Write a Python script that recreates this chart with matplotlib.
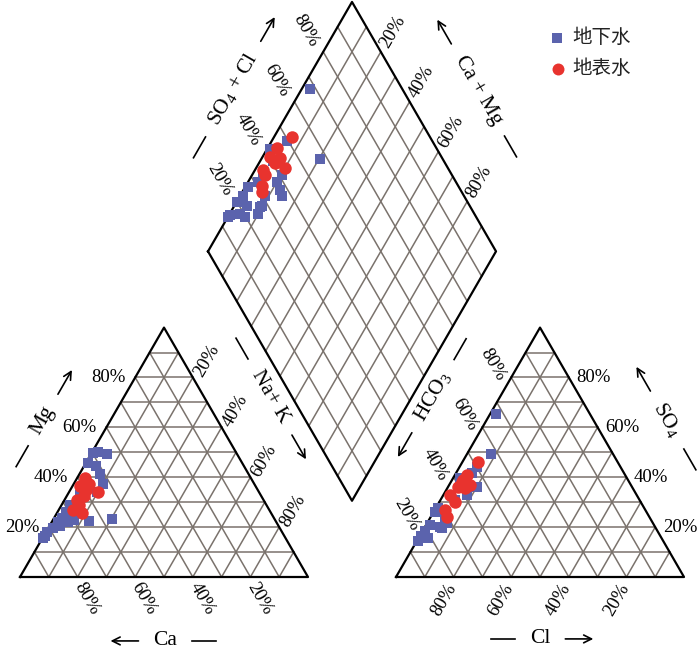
"""Piper diagram: groundwater vs surface water samples."""
import matplotlib

matplotlib.use("Agg")
import matplotlib.pyplot as plt
import numpy as np

plt.rcParams["font.family"] = ["Liberation Serif", "DejaVu Serif"]
plt.rcParams["mathtext.default"] = "regular"

H = np.sqrt(3) / 2
GAP = 0.3056
RX0 = 1 + GAP                      # left corner of anion triangle
DB = np.array([1 + GAP / 2, GAP * H])   # diamond bottom vertex
DL = DB + np.array([-0.5, H])           # diamond left vertex
DT = DL + np.array([0.5, H])            # diamond top vertex
PX = 288.0                          # pixels per unit side

TICKS = [20, 40, 60, 80]

# ---- cation triangle (Mg %, Na+K %) ----
gw_mg = [49.7, 50.1, 49.3, 45.7, 44.5, 41.3, 37.3, 34.1, 32.9, 28.9, 26.1, 23.7,
         22.1, 22.1, 22.9, 22.5, 23.3, 18.0, 15.6, 16.4, 19.6, 24.0, 20.5]
gw_nak = [0.5, 2.1, 5.5, 0.8, 4.1, 7.1, 10.2, 9.7, 4.4, 2.9, 2.9, 2.7,
          5.6, 2.1, 7.3, 12.7, 20.3, 0.4, 0.3, 0.5, 1.7, 5.0, 3.5]
sw_mg = [39.7, 36.5, 37.3, 34.1, 32.5, 28.9, 26.9, 25.7, 30.9, 34.9]
sw_nak = [2.7, 2.6, 5.4, 10.0, 6.0, 6.0, 5.0, 8.7, 4.3, 5.5]

# ---- anion triangle (SO4 %, Cl %) ----
gw_so4 = [65.4, 49.3, 44.1, 41.7, 39.7, 36.1, 32.9, 30.9, 27.7, 26.1, 24.1, 21.7,
          20.0, 20.8, 18.4, 16.4, 14.4, 15.6, 19.6]
gw_cl = [2.0, 8.3, 6.0, 5.5, 2.4, 10.0, 8.2, 5.0, 0.8, 0.5, 5.0, 6.9,
         5.3, 1.4, 0.9, 0.5, 0.3, 3.3, 6.2]
sw_so4 = [46.1, 40.9, 38.1, 36.9, 36.1, 35.7, 32.9, 30.1, 26.9, 24.1, 38.9]
sw_cl = [5.4, 4.2, 3.9, 7.2, 3.5, 6.1, 2.3, 5.4, 3.6, 5.7, 3.8]

# ---- diamond (SO4+Cl %, Na+K %) ----
gw_d_s = [67.9, 57.5, 49.5, 42.0, 40.6, 41.1, 34.5, 31.4, 38.0, 26.9, 36.7, 23.2,
          30.8, 19.9, 22.6, 14.8, 18.5, 27.8, 24.8, 37.4, 26.9, 13.9, 19.6]
gw_d_n = [2.9, 20.3, 5.3, 1.1, 4.5, 10.3, 3.7, 3.4, 10.0, 0.9, 14.7, 1.2,
          8.8, 0.3, 4.5, 0.2, 3.7, 9.7, 10.0, 12.6, 9.3, 0.2, 6.0]
sw_d_s = [52.2, 44.8, 40.5, 43.8, 41.1, 43.5, 35.5, 35.2, 31.8, 30.6]
sw_d_n = [6.2, 3.2, 2.5, 6.2, 5.5, 9.9, 2.7, 4.4, 5.7, 6.9]

GW_COLOR = "#5b63ad"
SW_COLOR = "#e8332e"
GRID_COLOR = "#7a726c"


def cation_xy(mg, nak):
    mg = np.asarray(mg) / 100
    nak = np.asarray(nak) / 100
    return nak + 0.5 * mg, H * mg


def anion_xy(so4, cl):
    so4 = np.asarray(so4) / 100
    cl = np.asarray(cl) / 100
    return RX0 + cl + 0.5 * so4, H * so4


def diamond_xy(s, n):
    s = np.asarray(s) / 100
    n = np.asarray(n) / 100
    return DL[0] + 0.5 * (s + n), DL[1] + H * (s - n)


def tri_grid(ax, x0):
    for t in np.arange(1, 10) / 10:
        ax.plot([x0 + 0.5 * t, x0 + 1 - 0.5 * t], [H * t, H * t], color=GRID_COLOR, lw=1.1, zorder=1)
        ax.plot([x0 + t, x0 + 0.5 + 0.5 * t], [0, H * (1 - t)], color=GRID_COLOR, lw=1.1, zorder=1)
        ax.plot([x0 + 1 - t, x0 + 0.5 * (1 - t)], [0, H * (1 - t)], color=GRID_COLOR, lw=1.1, zorder=1)
    ax.plot([x0, x0 + 1, x0 + 0.5, x0], [0, 0, H, 0], color="black", lw=1.6, zorder=2)


def diamond_grid(ax):
    up = np.array([0.5, H])
    down = np.array([0.5, -H])
    for t in np.arange(1, 10) / 10:
        a = DL + t * up
        b = a + down
        ax.plot([a[0], b[0]], [a[1], b[1]], color=GRID_COLOR, lw=1.1, zorder=1)
        a = DL + t * down
        b = a + up
        ax.plot([a[0], b[0]], [a[1], b[1]], color=GRID_COLOR, lw=1.1, zorder=1)
    pts = np.array([DL, DT, DL + up + down, DB, DL])
    ax.plot(pts[:, 0], pts[:, 1], color="black", lw=1.6, zorder=2)


fig = plt.figure(figsize=(7.0, 6.49), dpi=100)
ax = fig.add_axes([0, 0, 1, 1])
ax.set_xlim(-20 / PX, 680 / PX)
ax.set_ylim((577 - 649) / PX, 577 / PX)
ax.axis("off")
renderer = fig.canvas.get_renderer()

tri_grid(ax, 0)
tri_grid(ax, RX0)
diamond_grid(ax)

FS = 13.5
for p in TICKS:
    f = p / 100
    lab = f"{p}%"
    # cation: Mg on left side
    ax.text(0.5 * f - 0.033, H * f, lab, ha="right", va="center", fontsize=FS)
    # cation: Ca along base
    ax.text(1 - f + 0.031, -0.074, lab, ha="center", va="center", rotation=-60,
            rotation_mode="anchor", fontsize=FS)
    # cation: Na+K on right side
    ax.text(0.5 + 0.5 * f + 0.048, H * (1 - f) + 0.058, lab, ha="center", va="center",
            rotation=60, rotation_mode="anchor", fontsize=FS)
    # anion: left side
    ax.text(RX0 + 0.5 * f - 0.0625, H * f + 0.045, lab, ha="center", va="center",
            rotation=-60, rotation_mode="anchor", fontsize=FS)
    # anion: base
    ax.text(RX0 + 1 - f - 0.035, -0.081, lab, ha="center", va="center", rotation=60,
            rotation_mode="anchor", fontsize=FS)
    # anion: SO4 on right side
    ax.text(RX0 + 1 - 0.5 * f + 0.026, H * f, lab, ha="left", va="center", fontsize=FS)
    # diamond upper-left edge
    q = DL + f * np.array([0.5, H])
    ax.text(q[0] - 0.061, q[1] + 0.075, lab, ha="center", va="center", rotation=-60,
            rotation_mode="anchor", fontsize=FS)
    # diamond upper-right edge
    q = DT + f * np.array([0.5, -H])
    ax.text(q[0] + 0.042, q[1] + 0.068, lab, ha="center", va="center", rotation=60,
            rotation_mode="anchor", fontsize=FS)

TS = 15.5
DASH_PX, ARROW_PX, SPACE_PX = 24, 28, 15


def axis_title(x, y, label, angle, arrow_first):
    tmp = ax.text(0, 0, label, fontsize=TS)
    w = tmp.get_window_extent(renderer).width
    tmp.remove()
    ax.text(x, y, label, ha="center", va="center", rotation=angle,
            rotation_mode="anchor", fontsize=TS)
    c = np.array([x, y])
    d = np.array([np.cos(np.radians(angle)), np.sin(np.radians(angle))]) / PX
    near = w / 2 + SPACE_PX
    if arrow_first:
        head, tail = c - d * (near + ARROW_PX), c - d * near
        d0, d1 = c + d * near, c + d * (near + DASH_PX)
    else:
        head, tail = c + d * (near + ARROW_PX), c + d * near
        d0, d1 = c - d * near, c - d * (near + DASH_PX)
    ax.annotate("", xy=head, xytext=tail,
                arrowprops=dict(arrowstyle="->", lw=1.2, color="black",
                                shrinkA=0, shrinkB=0, mutation_scale=14))
    ax.plot([d0[0], d1[0]], [d0[1], d1[1]], color="black", lw=1.2)


titles = [
    ("Mg", 0.080, 0.545, 60, False),
    ("Ca", 0.505, -0.222, 0, True),
    ("Na+ K", 0.868, 0.625, -60, False),
    ("SO$_4$ + Cl", 0.740, 1.694, 60, False),
    ("Ca + Mg", 1.590, 1.691, -60, True),
    ("HCO$_3$", 1.434, 0.628, 60, True),
    ("Cl", 1.806, -0.215, 0, False),
    ("SO$_4$", 2.247, 0.545, -60, True),
]
for lab, x, y, r, af in titles:
    axis_title(x, y, lab, r, af)

# samples
for xy_fn, gx, gy, sx, sy in [
    (cation_xy, gw_mg, gw_nak, sw_mg, sw_nak),
    (anion_xy, gw_so4, gw_cl, sw_so4, sw_cl),
    (diamond_xy, gw_d_s, gw_d_n, sw_d_s, sw_d_n),
]:
    x, y = xy_fn(gx, gy)
    ax.plot(x, y, "s", color=GW_COLOR, ms=7.6, mew=0, zorder=3)
    x, y = xy_fn(sx, sy)
    ax.plot(x, y, "o", color=SW_COLOR, ms=9.0, mew=0, zorder=4)

# legend
cjk = ["Noto Sans CJK SC", "DejaVu Sans"]
ax.plot([1.865], [1.872], "s", color=GW_COLOR, ms=7.2, mew=0)
ax.text(1.917, 1.872, "地下水", ha="left", va="center", fontsize=14, family=cjk, color="#222222")
ax.plot([1.868], [1.764], "o", color=SW_COLOR, ms=8.6, mew=0)
ax.text(1.917, 1.764, "地表水", ha="left", va="center", fontsize=14, family=cjk, color="#222222")

fig.savefig("out.png", dpi=100)
plt.close(fig)
